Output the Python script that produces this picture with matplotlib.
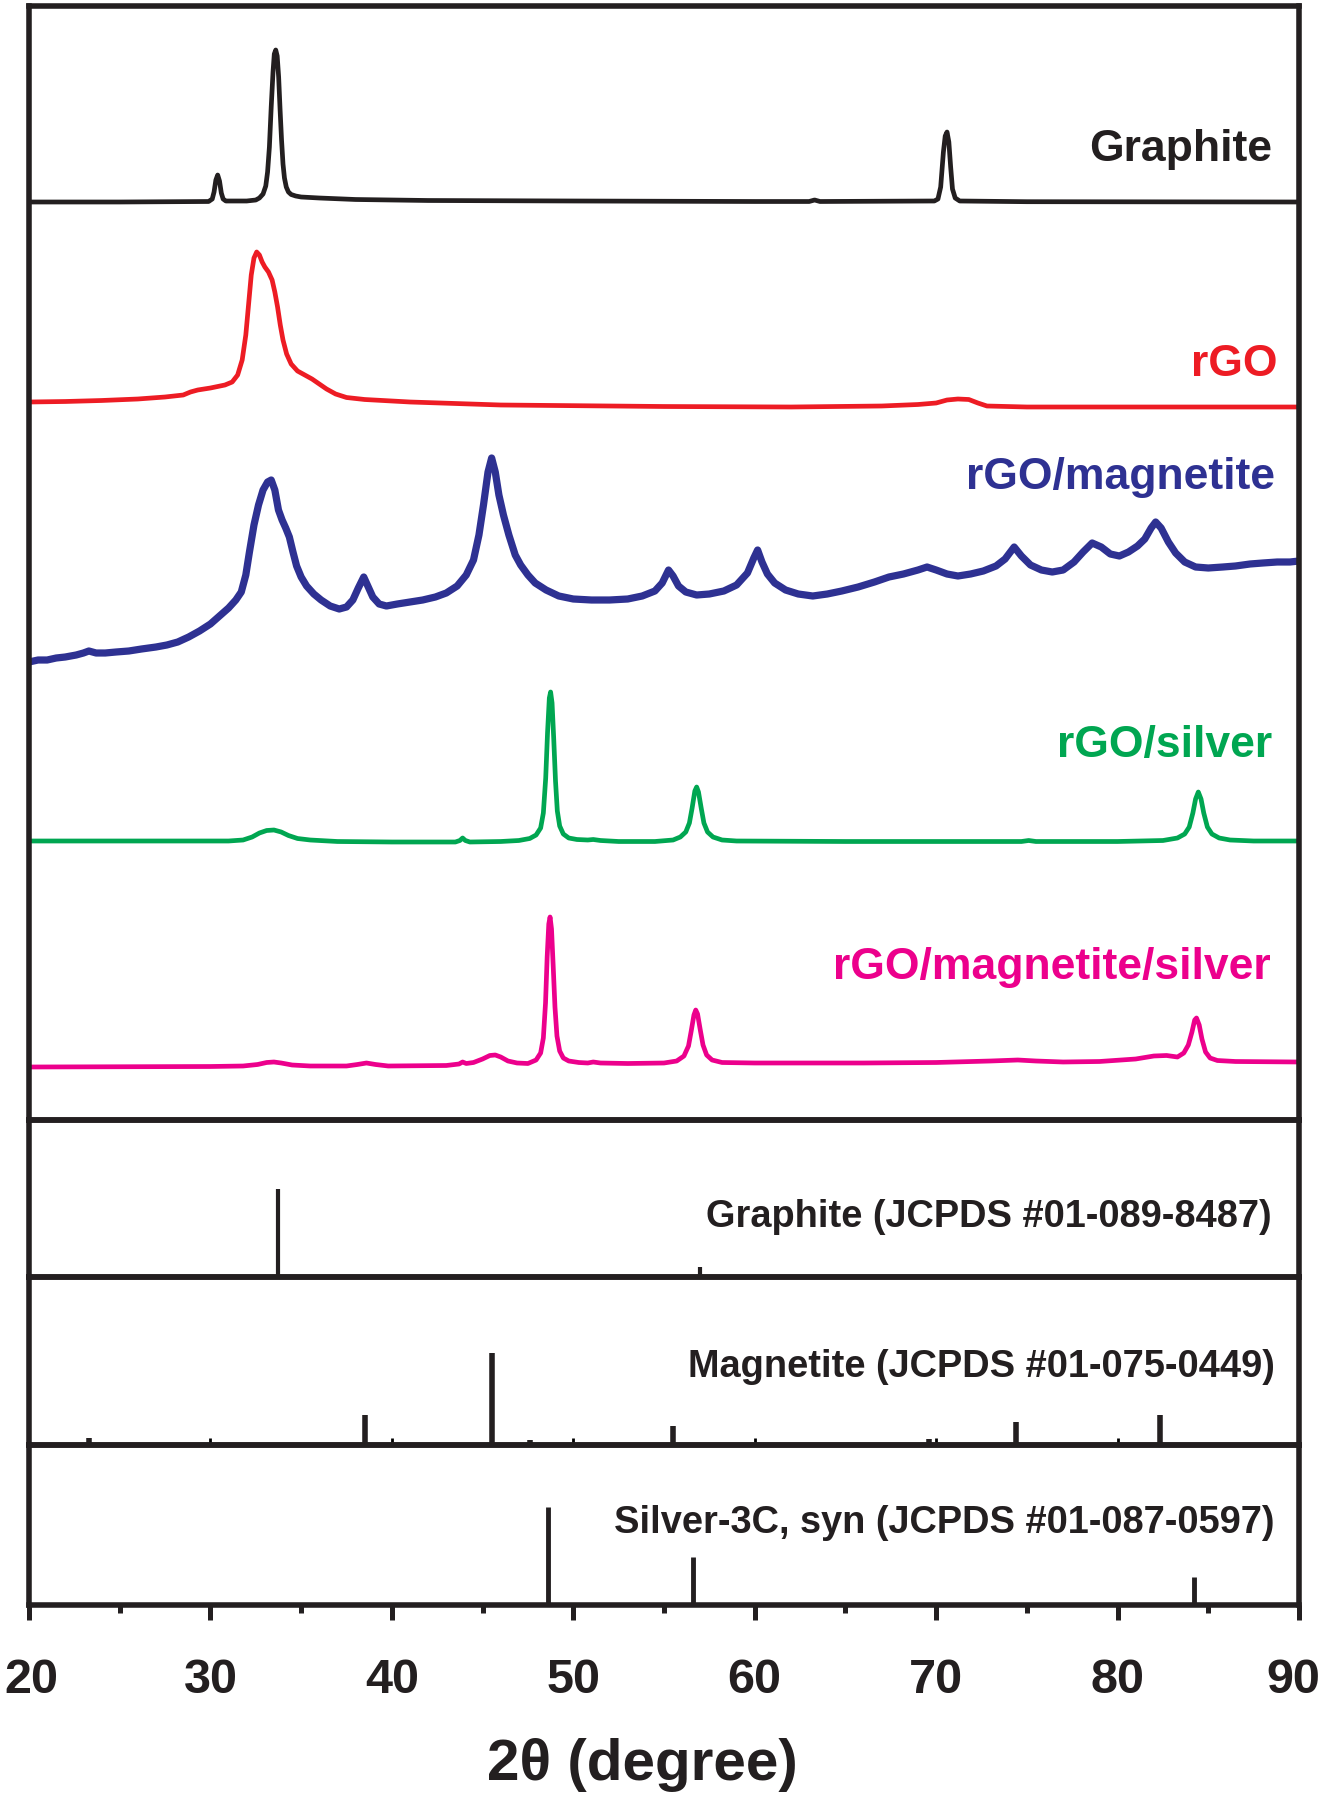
import matplotlib
matplotlib.use("Agg")
import matplotlib.pyplot as plt
from matplotlib.ticker import MultipleLocator
from matplotlib.transforms import ScaledTranslation

plt.rcParams['font.family'] = ['Liberation Sans', 'DejaVu Sans']
plt.rcParams['font.weight'] = 'bold'

# ---------------- data (2theta, intensity in arbitrary units) ----------------
graphite_x = [20, 25, 29.9, 30.1, 30.2, 30.3, 30.4, 30.5, 30.6, 30.7, 30.85, 31.5, 32.0, 32.5, 32.7,
              32.9, 33.05, 33.15, 33.25, 33.35, 33.45, 33.52, 33.6, 33.68, 33.76, 33.84, 33.92,
              34.0, 34.08, 34.18, 34.3, 34.45, 34.7, 35.0, 36.0, 38.0, 42.0, 50.0, 60.0,
              63.0, 63.3, 63.6, 69.9, 70.1, 70.25, 70.4, 70.5, 70.6, 70.7, 70.8, 70.9, 71.05, 71.3,
              75, 90]
graphite_y = [0, 0, 0.5, 3, 10, 22, 27, 21, 9, 3, 1, 1, 1, 2, 4,
              8, 16, 30, 55, 95, 130, 148, 152, 146, 125, 92, 62,
              38, 24, 15, 10, 7.5, 6, 5, 4, 2.5, 1.5, 1, 0.5,
              0.5, 2, 0.5, 1, 3, 15, 50, 66, 70, 60, 35, 13, 4, 1,
              0.3, 0]

rgo_x = [20, 22, 24, 26, 27.5, 28.5, 28.9, 29.3, 30.0, 30.8, 31.2, 31.5, 31.75, 31.95, 32.1,
         32.25, 32.4, 32.55, 32.7, 32.85, 33.0, 33.2, 33.4, 33.55, 33.7, 33.85, 34.0, 34.2,
         34.45, 34.8, 35.2, 35.6, 36.0, 36.4, 36.9, 37.5, 38.5, 41, 46, 55, 62, 67, 69, 70,
         70.6, 71.2, 71.8, 72.3, 72.8, 75, 90]
rgo_y = [18, 18.5, 19.5, 21, 23, 25, 28, 30, 32, 35, 38, 45, 60, 85, 115,
         145, 162, 168, 165, 158, 153, 148, 140, 128, 113, 95, 80, 66,
         56, 49, 45, 41, 36, 31, 26, 22.5, 20.5, 18, 15, 13.5, 13, 14, 15.5, 17,
         20, 21, 20.5, 17, 14, 13, 13]

mag_x = [20.0, 20.5, 21.0, 21.5, 22.0, 22.6, 23.0, 23.3, 23.7, 24.2, 24.8, 25.5, 26.2, 27.0, 27.6,
         28.2, 28.8, 29.4, 30.0, 30.5, 31.0, 31.4, 31.7, 31.95, 32.15, 32.4, 32.65, 32.9, 33.15,
         33.35, 33.55, 33.75, 33.95, 34.15, 34.35, 34.55, 34.75, 35.0, 35.3, 35.7, 36.1, 36.6,
         37.1, 37.5, 37.85, 38.15, 38.45, 38.7, 38.95, 39.3, 39.7, 40.3, 41.0, 41.7, 42.4, 43.0,
         43.6, 44.1, 44.5, 44.8, 45.05, 45.3, 45.5, 45.7, 45.9, 46.15, 46.45, 46.8, 47.1, 47.5,
         47.9, 48.5, 49.2, 50.0, 51.0, 52.0, 53.0, 53.8, 54.5, 54.9, 55.25, 55.5, 55.8, 56.2,
         56.8, 57.5, 58.3, 59.0, 59.6, 59.95, 60.16, 60.4, 60.7, 61.1, 61.7, 62.4, 63.2, 64.0,
         64.8, 65.7, 66.6, 67.4, 68.2, 69.0, 69.5, 70.0, 70.6, 71.2, 71.9, 72.6, 73.3, 73.8,
         74.3, 74.7, 75.2, 75.8, 76.4, 77.0, 77.6, 78.1, 78.6, 79.1, 79.6, 80.1, 80.6, 81.1,
         81.5, 81.85, 82.1, 82.4, 82.8, 83.2, 83.7, 84.3, 85.0, 85.8, 86.5, 87.3, 88.0, 88.8,
         89.5, 90.0]
mag_y = [18, 20, 20, 22, 23, 25, 27, 29, 27, 27, 28, 29, 31, 33, 35,
         38, 43, 49, 56, 64, 72, 80, 88, 105, 128, 155, 175, 190, 198,
         200, 190, 170, 160, 152, 143, 128, 114, 103, 94, 86, 80, 74,
         71, 73, 80, 92, 103, 93, 83, 76, 74, 76, 78, 80, 83, 87,
         94, 105, 120, 145, 175, 208, 222, 208, 185, 165, 145, 125, 115, 105,
         97, 90, 84, 81, 80, 80, 81, 84, 89, 97, 110, 104, 94, 88,
         85, 86, 89, 95, 107, 122, 130, 118, 106, 97, 90, 86, 84, 86,
         89, 93, 98, 103, 106, 110, 113, 110, 106, 104, 106, 109, 114, 121,
         133, 124, 115, 110, 108, 110, 118, 128, 137, 133, 126, 124, 128, 134,
         141, 152, 158, 152, 138, 127, 118, 113, 112, 113, 114, 116, 117, 118,
         118, 119]

ag_x = [20, 31.0, 31.8, 32.3, 32.7, 33.1, 33.5, 33.9, 34.3, 34.8, 35.5, 37, 40, 43.5, 43.75, 43.9,
        44.05, 44.3, 46, 47.0, 47.6, 47.95, 48.2, 48.35, 48.48, 48.58, 48.68, 48.75, 48.83,
        48.92, 49.02, 49.12, 49.25, 49.45, 49.75, 50.2, 50.8, 51.1, 51.5, 52.5, 54.5, 55.5,
        55.9, 56.2, 56.4, 56.55, 56.7, 56.8, 56.9, 57.05, 57.2, 57.4, 57.7, 58.2, 59, 65, 74.7,
        75.1, 75.5, 80, 82.5, 83.3, 83.7, 83.95, 84.15, 84.3, 84.45, 84.6, 84.75, 84.95, 85.2,
        85.6, 86.2, 87.5, 90]
ag_y = [2, 2, 3, 6, 10, 12.5, 13, 11, 7.5, 4.5, 3, 1.5, 1, 1, 2.5, 5,
        2.5, 1, 1.5, 2.5, 4.5, 8, 15, 30, 65, 110, 145, 151, 140,
        105, 62, 32, 17, 9, 5, 3.5, 3, 3.5, 2.5, 1.5, 1.5, 3,
        6, 11, 20, 35, 52, 56, 51, 35, 20, 11, 6, 3, 2, 1.5, 1.5,
        2.5, 1.5, 1.5, 2.5, 5, 9, 16, 30, 44, 51, 44, 30, 16, 9,
        5, 3, 2, 2]

magag_x = [20, 30, 31.8, 32.6, 33.1, 33.5, 33.9, 34.5, 35.5, 37.5, 38.1, 38.6, 39.1, 39.8, 43.0,
           43.7, 43.9, 44.1, 44.5, 45.0, 45.4, 45.7, 46.0, 46.4, 46.9, 47.5, 47.95, 48.2, 48.35,
           48.47, 48.56, 48.65, 48.72, 48.8, 48.89, 48.99, 49.1, 49.25, 49.45, 49.75, 50.3, 50.8,
           51.1, 51.5, 53, 55.0, 55.7, 56.1, 56.35, 56.5, 56.65, 56.75, 56.85, 57.0, 57.15, 57.35,
           57.65, 58.2, 60, 66, 70, 73, 74.5, 75.5, 77, 79, 81, 82.0, 82.7, 83.3, 83.65, 83.9,
           84.1, 84.25, 84.35, 84.5, 84.65, 84.85, 85.1, 85.5, 86.5, 90]
magag_y = [0, 0.5, 1, 2.5, 4.5, 5, 4, 2, 1, 1, 2.5, 4, 2.5, 1, 1.5,
           3, 5, 3.5, 4.5, 8, 11.5, 12, 10, 6, 4, 3.5, 7, 14, 29,
           64, 110, 143, 150, 138, 102, 60, 31, 16, 9, 6, 4.5, 4,
           5, 4, 3.5, 4, 6, 11, 21, 36, 52, 57, 53, 37, 22, 12,
           7, 4.5, 4, 4, 4.5, 6, 7, 6, 5, 5.5, 8, 11, 11.5, 10, 14, 22,
           35, 47, 49, 42, 28, 15, 9, 6.5, 5.5, 5]

sample_names = ["Graphite", "rGO", "rGO/magnetite", "rGO/silver", "rGO/magnetite/silver"]
sample_offsets = [918, 700, 440, 277, 53]

ref_graphite_pos = [33.7, 57.0, 70.7, 77.8]
ref_graphite_int = [88, 10, 2, 2]
ref_magnetite_pos = [23.3, 38.5, 45.5, 47.6, 55.5, 69.6, 74.4, 82.35]
ref_magnetite_int = [7, 30, 92, 5, 19, 6, 23, 30]
ref_silver_pos = [48.6, 56.6, 84.2]
ref_silver_int = [98, 48, 28]
ref_names = ["Graphite (JCPDS #01-089-8487)",
             "Magnetite (JCPDS #01-075-0449)",
             "Silver-3C, syn (JCPDS #01-087-0597)"]

x_ticks = [20, 30, 40, 50, 60, 70, 80, 90]

# ---------------- styling ----------------
W, H = 1323, 1800
fig = plt.figure(figsize=(W / 100, H / 100), dpi=100)

colors = ["#231f20", "#ed1c24", "#2e3192", "#00a651", "#ec008c"]
line_w = [3.4, 3.4, 5.2, 3.4, 3.4]
spine_w = 4.0

def px_axes(top, bottom, left=29, right=1299):
    return fig.add_axes([left / W, 1 - bottom / H, (right - left) / W, (bottom - top) / H])

ax_main = px_axes(6, 1120)
ax_r1 = px_axes(1120, 1277)
ax_r2 = px_axes(1277, 1445)
ax_r3 = px_axes(1445, 1605)

for ax in (ax_main, ax_r1, ax_r2, ax_r3):
    ax.set_xlim(20, 90)
    ax.set_yticks([])
    for s in ax.spines.values():
        s.set_linewidth(spine_w)
        s.set_color("#231f20")
    ax.tick_params(axis='x', which='both', bottom=False, top=False, labelbottom=False)
    ax.patch.set_alpha(0)

ax_main.set_ylim(0, 1114)
traces = [(graphite_x, graphite_y), (rgo_x, rgo_y), (mag_x, mag_y), (ag_x, ag_y), (magag_x, magag_y)]
for (xs, ys), off, c, lw in zip(traces, sample_offsets, colors, line_w):
    ax_main.plot(xs, [y + off for y in ys], color=c, lw=lw, solid_joinstyle='round',
                 solid_capstyle='round')

label_pos = [(1272, 150), (1277, 365), (1275, 477), (1272, 746), (1271, 968)]
for name, (xr, yc), c in zip(sample_names, label_pos, colors):
    fig.text(xr / W, 1 - yc / H, name, color=c, fontsize=32, fontweight='bold',
             ha='right', va='center')

ax_r1.set_ylim(0, 157)
ax_r2.set_ylim(0, 168)
ax_r3.set_ylim(0, 160)
ax_r1.vlines(ref_graphite_pos, 0, ref_graphite_int, color="#231f20", lw=3.0)
ax_r2.vlines(ref_magnetite_pos, 0, ref_magnetite_int, color="#231f20", lw=4.0)
ax_r3.vlines(ref_silver_pos, 0, ref_silver_int, color="#231f20", lw=3.5)

ref_label_pos = [(1272, 1217), (1275, 1367), (1275, 1523)]
for name, (xr, yc) in zip(ref_names, ref_label_pos):
    fig.text(xr / W, 1 - yc / H, name, color="#231f20", fontsize=27.4, fontweight='bold',
             ha='right', va='center')

# inward ticks on magnetite panel bottom
ax_r2.set_xticks(x_ticks)
ax_r2.tick_params(axis='x', which='major', bottom=True, direction='in', length=5, width=2.0,
                  labelbottom=False)

# bottom axis
ax_r3.set_xticks(x_ticks)
ax_r3.xaxis.set_minor_locator(MultipleLocator(5))
ax_r3.tick_params(axis='x', which='major', bottom=True, direction='out', length=11, width=3.6,
                  labelbottom=True, labelsize=35, pad=27, colors="#231f20")
ax_r3.tick_params(axis='x', which='minor', bottom=True, direction='out', length=5.5, width=3.6,
                  colors="#231f20")
for lab in ax_r3.get_xticklabels():
    lab.set_fontweight('bold')

# keep the edge labels inside the canvas
ticks = ax_r3.xaxis.get_major_ticks()
last = ticks[-1].label1
last.set_transform(last.get_transform() + ScaledTranslation(-6 / 100, 0, fig.dpi_scale_trans))
first = ticks[0].label1
first.set_transform(first.get_transform() + ScaledTranslation(2 / 100, 0, fig.dpi_scale_trans))

fig.text(642 / W, 1 - 1765 / H, "2θ (degree)", color="#231f20", fontsize=42,
         fontweight='bold', ha='center', va='center')

fig.savefig("out.png", dpi=100)
